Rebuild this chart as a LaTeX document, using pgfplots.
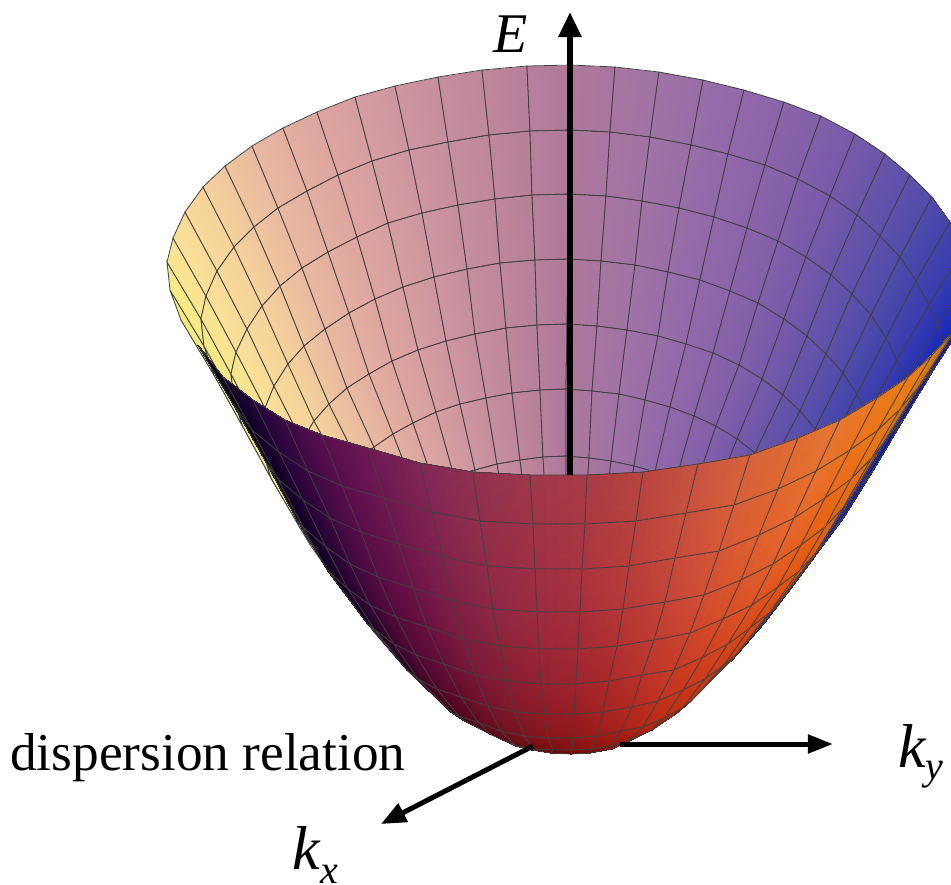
\documentclass[border=0pt]{standalone}
\usepackage{fontspec}
\setmainfont{Liberation Serif}
\usepackage{pgfplots}
\pgfplotsset{compat=1.18}
\usetikzlibrary{arrows.meta}
\begin{document}
\begin{tikzpicture}
\useasboundingbox (0,0) rectangle (951pt,885pt);
\begin{axis}[at={(0,0)},anchor=south west,scale only axis,width=951pt,height=885pt,
  xmin=0,xmax=951,ymin=0,ymax=885,y dir=reverse,view={0}{90},hide axis,clip mode=individual,
  colormap={inner}{
    rgb255(0)=(235,235,110) rgb255(2)=(245,235,130) rgb255(4)=(250,225,150)
    rgb255(6)=(245,210,155) rgb255(8)=(232,185,160) rgb255(10)=(222,165,160)
    rgb255(12)=(205,150,160) rgb255(14)=(190,135,155) rgb255(16)=(175,120,155)
    rgb255(18)=(160,115,165) rgb255(20)=(145,105,170) rgb255(22)=(130,95,170)
    rgb255(24)=(105,85,170) rgb255(26)=(80,75,170) rgb255(28)=(55,60,175)
    rgb255(30)=(20,40,190) rgb255(32)=(10,20,170)}]
% inside of the bowl: one scanline per meridian, rim first, value = colour position
\addplot3[surf,shader=faceted interp,faceted color=black!75,line width=0.8pt,
  mesh/rows=33,mesh/cols=8,point meta=explicit,point meta min=-16,point meta max=16] coordinates {
(198,345,0)[-16] (229,399,0)[-16] (258,450,0)[-16] (284,500,0)[-16] (311,546,0)[-16] (342,590,0)[-16] (374,632,0)[-16] (406,669,0)[-16]
(181,320,0)[-15] (214,375,0)[-15] (243,427,0)[-15] (271,478,0)[-15] (299,526,0)[-15] (331,572,0)[-15] (365,616,0)[-15] (398,656,0)[-15]
(170,290,0)[-14] (204,346,0)[-14] (234,400,0)[-14] (263,452,0)[-14] (291,502,0)[-14] (325,551,0)[-14] (359,598,0)[-14] (394,640,0)[-14]
(167,262,0)[-13] (201,319,0)[-13] (231,374,0)[-13] (260,429,0)[-13] (289,480,0)[-13] (323,531,0)[-13] (357,580,0)[-13] (392,625,0)[-13]
(173,238,0)[-12] (206,296,0)[-12] (236,352,0)[-12] (265,408,0)[-12] (293,461,0)[-12] (326,513,0)[-12] (361,565,0)[-12] (395,612,0)[-12]
(185,212,0)[-11] (217,271,0)[-11] (247,329,0)[-11] (274,386,0)[-11] (302,441,0)[-11] (334,495,0)[-11] (367,549,0)[-11] (400,599,0)[-11]
(203,187,0)[-10] (234,247,0)[-10] (262,306,0)[-10] (288,364,0)[-10] (314,421,0)[-10] (345,477,0)[-10] (376,533,0)[-10] (408,586,0)[-10]
(225,166,0)[-9] (254,227,0)[-9] (280,286,0)[-9] (304,346,0)[-9] (329,404,0)[-9] (358,462,0)[-9] (387,520,0)[-9] (417,575,0)[-9]
(252,146,0)[-8] (278,208,0)[-8] (302,268,0)[-8] (325,329,0)[-8] (347,388,0)[-8] (374,447,0)[-8] (401,507,0)[-8] (429,564,0)[-8]
(283,128,0)[-7] (307,191,0)[-7] (328,252,0)[-7] (349,313,0)[-7] (369,374,0)[-7] (393,434,0)[-7] (417,496,0)[-7] (442,555,0)[-7]
(317,112,0)[-6] (338,175,0)[-6] (357,237,0)[-6] (375,299,0)[-6] (392,361,0)[-6] (413,423,0)[-6] (435,486,0)[-6] (457,546,0)[-6]
(355,97,0)[-5] (372,161,0)[-5] (388,223,0)[-5] (403,287,0)[-5] (418,350,0)[-5] (436,412,0)[-5] (454,476,0)[-5] (473,538,0)[-5]
(395,86,0)[-4] (409,150,0)[-4] (422,213,0)[-4] (434,277,0)[-4] (446,341,0)[-4] (460,404,0)[-4] (475,470,0)[-4] (490,532,0)[-4]
(438,77,0)[-3] (448,142,0)[-3] (458,205,0)[-3] (467,269,0)[-3] (475,334,0)[-3] (486,398,0)[-3] (497,464,0)[-3] (509,528,0)[-3]
(482,70,0)[-2] (489,135,0)[-2] (495,199,0)[-2] (500,263,0)[-2] (506,328,0)[-2] (512,393,0)[-2] (520,460,0)[-2] (528,524,0)[-2]
(527,66,0)[-1] (530,131,0)[-1] (532,195,0)[-1] (535,260,0)[-1] (537,325,0)[-1] (540,390,0)[-1] (543,457,0)[-1] (547,522,0)[-1]
(571,65,0)[0] (570,130,0)[0] (569,194,0)[0] (568,259,0)[0] (567,324,0)[0] (566,389,0)[0] (566,456,0)[0] (566,521,0)[0]
(615,67,0)[1] (610,132,0)[1] (606,196,0)[1] (601,261,0)[1] (597,326,0)[1] (592,391,0)[1] (589,458,0)[1] (585,523,0)[1]
(659,72,0)[2] (650,137,0)[2] (642,201,0)[2] (635,265,0)[2] (627,330,0)[2] (619,394,0)[2] (611,461,0)[2] (604,525,0)[2]
(703,80,0)[3] (691,145,0)[3] (679,208,0)[3] (668,272,0)[3] (658,336,0)[3] (645,400,0)[3] (634,466,0)[3] (623,530,0)[3]
(744,90,0)[4] (728,154,0)[4] (714,217,0)[4] (700,280,0)[4] (686,344,0)[4] (670,407,0)[4] (655,472,0)[4] (640,535,0)[4]
(784,102,0)[5] (765,165,0)[5] (747,228,0)[5] (730,291,0)[5] (713,353,0)[5] (694,416,0)[5] (676,480,0)[5] (658,541,0)[5]
(821,116,0)[6] (798,179,0)[6] (778,241,0)[6] (758,303,0)[6] (739,365,0)[6] (716,426,0)[6] (695,488,0)[6] (673,549,0)[6]
(855,134,0)[7] (830,196,0)[7] (806,257,0)[7] (784,319,0)[7] (762,379,0)[7] (737,439,0)[7] (713,500,0)[7] (688,558,0)[7]
(885,154,0)[8] (857,215,0)[8] (831,275,0)[8] (807,336,0)[8] (783,395,0)[8] (755,453,0)[8] (728,512,0)[8] (701,568,0)[8]
(910,175,0)[9] (880,236,0)[9] (852,294,0)[9] (826,354,0)[9] (800,411,0)[9] (770,468,0)[9] (741,525,0)[9] (712,579,0)[9]
(932,197,0)[10] (900,257,0)[10] (871,315,0)[10] (843,373,0)[10] (815,429,0)[10] (783,484,0)[10] (752,539,0)[10] (721,591,0)[10]
(950,222,0)[11] (916,281,0)[11] (886,338,0)[11] (857,394,0)[11] (828,449,0)[11] (794,502,0)[11] (762,555,0)[11] (729,604,0)[11]
(964,247,0)[12] (929,305,0)[12] (897,360,0)[12] (867,415,0)[12] (837,468,0)[12] (803,520,0)[12] (769,571,0)[12] (735,617,0)[12]
(974,268,0)[13] (938,325,0)[13] (906,379,0)[13] (875,434,0)[13] (844,485,0)[13] (809,535,0)[13] (774,584,0)[13] (739,628,0)[13]
(978,288,0)[14] (942,344,0)[14] (909,398,0)[14] (878,451,0)[14] (847,501,0)[14] (811,550,0)[14] (776,596,0)[14] (741,639,0)[14]
(972,310,0)[15] (936,365,0)[15] (904,418,0)[15] (873,470,0)[15] (843,518,0)[15] (807,566,0)[15] (773,610,0)[15] (738,651,0)[15]
(955,330,0)[16] (921,385,0)[16] (890,436,0)[16] (860,487,0)[16] (831,534,0)[16] (797,580,0)[16] (764,623,0)[16] (731,661,0)[16]
};
% outside of the bowl, front part up to the silhouette, colour given per point
\addplot3[surf,shader=faceted interp,faceted color=black!75,line width=0.8pt,
  mesh/rows=19,mesh/cols=10,mesh/color input=explicit,point meta=explicit symbolic] coordinates {
(198,345,0)[rgb255=5,0,15] (233,404,0)[rgb255=5,0,14] (266,462,0)[rgb255=5,0,13] (297,520,0)[rgb255=5,0,13] (328,571,0)[rgb255=5,0,11] (367,623,0)[rgb255=5,0,10] (407,670,0)[rgb255=4,0,8] (451,712,0)[rgb255=4,0,5] (451,712,0)[rgb255=4,0,3] (451,712,0)[rgb255=3,0,2]
(223,377,0)[rgb255=15,0,35] (252,430,0)[rgb255=15,0,33] (278,479,0)[rgb255=15,0,31] (303,527,0)[rgb255=15,0,30] (328,571,0)[rgb255=14,0,26] (367,623,0)[rgb255=14,0,23] (407,670,0)[rgb255=13,0,18] (451,712,0)[rgb255=13,0,12] (451,712,0)[rgb255=11,0,7] (451,712,0)[rgb255=9,0,4]
(253,400,0)[rgb255=35,5,60] (279,452,0)[rgb255=35,5,57] (303,500,0)[rgb255=35,4,54] (326,547,0)[rgb255=34,4,51] (348,589,0)[rgb255=34,3,45] (375,630,0)[rgb255=33,3,39] (407,670,0)[rgb255=32,2,30] (451,712,0)[rgb255=30,2,21] (451,712,0)[rgb255=26,1,12] (451,712,0)[rgb255=21,0,6]
(285,420,0)[rgb255=60,10,70] (308,471,0)[rgb255=60,9,66] (330,518,0)[rgb255=60,9,63] (350,564,0)[rgb255=59,8,60] (370,605,0)[rgb255=58,7,52] (394,644,0)[rgb255=56,6,46] (418,679,0)[rgb255=54,5,35] (451,712,0)[rgb255=51,4,24] (451,712,0)[rgb255=45,2,14] (451,712,0)[rgb255=36,1,7]
(322,435,0)[rgb255=90,15,80] (342,486,0)[rgb255=90,14,76] (361,532,0)[rgb255=90,13,72] (378,577,0)[rgb255=88,12,68] (396,617,0)[rgb255=86,10,60] (416,655,0)[rgb255=84,9,52] (437,689,0)[rgb255=81,7,40] (459,716,0)[rgb255=76,6,28] (463,720,0)[rgb255=68,4,16] (463,720,0)[rgb255=54,2,8]
(368,448,0)[rgb255=110,25,85] (384,498,0)[rgb255=110,24,81] (399,544,0)[rgb255=110,22,76] (413,588,0)[rgb255=108,20,72] (427,627,0)[rgb255=106,17,64] (444,664,0)[rgb255=102,15,55] (461,697,0)[rgb255=99,12,42] (479,723,0)[rgb255=94,10,30] (490,734,0)[rgb255=82,6,17] (490,734,0)[rgb255=66,2,8]
(420,463,0)[rgb255=130,40,85] (432,512,0)[rgb255=130,38,81] (443,557,0)[rgb255=130,35,76] (453,601,0)[rgb255=127,32,72] (463,639,0)[rgb255=125,28,64] (475,675,0)[rgb255=121,24,55] (488,706,0)[rgb255=117,20,42] (501,731,0)[rgb255=110,16,30] (516,746,0)[rgb255=98,10,17] (516,746,0)[rgb255=78,4,8]
(473,472,0)[rgb255=145,50,80] (480,521,0)[rgb255=145,47,76] (487,566,0)[rgb255=145,44,72] (493,609,0)[rgb255=142,40,68] (500,646,0)[rgb255=139,35,60] (507,681,0)[rgb255=135,30,52] (515,712,0)[rgb255=130,25,40] (524,736,0)[rgb255=123,20,28] (534,749,0)[rgb255=109,12,16] (532,750,0)[rgb255=87,5,8]
(530,475,0)[rgb255=160,55,75] (533,524,0)[rgb255=160,52,71] (535,569,0)[rgb255=160,48,68] (537,612,0)[rgb255=157,44,64] (539,649,0)[rgb255=154,38,56] (541,684,0)[rgb255=149,33,49] (545,714,0)[rgb255=144,28,38] (548,738,0)[rgb255=136,22,26] (553,750,0)[rgb255=120,14,15] (551,753,0)[rgb255=96,6,8]
(587,475,0)[rgb255=170,60,70] (585,524,0)[rgb255=170,57,66] (582,569,0)[rgb255=170,53,63] (580,612,0)[rgb255=167,48,60] (578,649,0)[rgb255=163,42,52] (576,684,0)[rgb255=158,36,46] (574,714,0)[rgb255=153,30,35] (573,738,0)[rgb255=144,24,24] (572,750,0)[rgb255=128,15,14] (571,754,0)[rgb255=102,6,7]
(643,472,0)[rgb255=185,70,65] (636,521,0)[rgb255=185,66,62] (629,566,0)[rgb255=185,62,58] (623,609,0)[rgb255=181,56,55] (617,646,0)[rgb255=178,49,49] (609,681,0)[rgb255=172,42,42] (603,712,0)[rgb255=166,35,32] (597,736,0)[rgb255=157,28,23] (591,749,0)[rgb255=139,18,13] (590,753,0)[rgb255=111,7,6]
(698,464,0)[rgb255=200,85,65] (686,513,0)[rgb255=200,81,62] (675,558,0)[rgb255=200,75,58] (665,602,0)[rgb255=196,68,55] (654,640,0)[rgb255=192,60,49] (642,675,0)[rgb255=186,51,42] (632,707,0)[rgb255=180,42,32] (621,731,0)[rgb255=170,34,23] (610,746,0)[rgb255=150,21,13] (612,749,0)[rgb255=120,8,6]
(750,455,0)[rgb255=215,100,60] (734,505,0)[rgb255=215,95,57] (719,551,0)[rgb255=215,88,54] (704,595,0)[rgb255=211,80,51] (690,633,0)[rgb255=206,70,45] (674,670,0)[rgb255=200,60,39] (658,701,0)[rgb255=194,50,30] (643,727,0)[rgb255=183,40,21] (627,742,0)[rgb255=161,25,12] (627,742,0)[rgb255=129,10,6]
(798,438,0)[rgb255=225,110,50] (778,489,0)[rgb255=225,104,47] (759,535,0)[rgb255=225,97,45] (741,580,0)[rgb255=220,88,42] (723,619,0)[rgb255=216,77,37] (703,657,0)[rgb255=209,66,32] (683,690,0)[rgb255=202,55,25] (664,718,0)[rgb255=191,44,18] (652,730,0)[rgb255=169,27,10] (652,730,0)[rgb255=135,11,5]
(840,420,0)[rgb255=230,120,50] (816,471,0)[rgb255=230,114,47] (794,518,0)[rgb255=230,106,45] (773,564,0)[rgb255=225,96,42] (752,605,0)[rgb255=221,84,37] (728,644,0)[rgb255=214,72,32] (705,679,0)[rgb255=207,60,25] (682,708,0)[rgb255=195,48,18] (677,713,0)[rgb255=172,30,10] (677,713,0)[rgb255=138,12,5]
(877,398,0)[rgb255=235,120,30] (850,450,0)[rgb255=235,114,28] (825,498,0)[rgb255=235,106,27] (801,545,0)[rgb255=230,96,25] (778,587,0)[rgb255=226,84,22] (750,628,0)[rgb255=219,72,20] (724,665,0)[rgb255=212,60,15] (690,702,0)[rgb255=200,48,10] (690,702,0)[rgb255=176,30,6] (690,702,0)[rgb255=141,12,3]
(908,377,0)[rgb255=235,125,20] (878,430,0)[rgb255=235,119,19] (851,479,0)[rgb255=235,110,18] (825,527,0)[rgb255=230,100,17] (799,571,0)[rgb255=226,87,15] (769,613,0)[rgb255=219,75,13] (735,656,0)[rgb255=212,62,10] (690,702,0)[rgb255=200,50,7] (690,702,0)[rgb255=176,31,4] (690,702,0)[rgb255=141,12,2]
(932,355,0)[rgb255=230,130,20] (900,409,0)[rgb255=230,123,19] (871,459,0)[rgb255=230,114,18] (843,508,0)[rgb255=225,104,17] (815,554,0)[rgb255=221,91,15] (775,607,0)[rgb255=214,78,13] (735,656,0)[rgb255=207,65,10] (690,702,0)[rgb255=195,52,7] (690,702,0)[rgb255=172,32,4] (690,702,0)[rgb255=138,13,2]
(955,330,0)[rgb255=190,110,20] (918,388,0)[rgb255=190,104,19] (882,445,0)[rgb255=190,97,18] (848,502,0)[rgb255=186,88,17] (815,554,0)[rgb255=182,77,15] (775,607,0)[rgb255=177,66,13] (735,656,0)[rgb255=171,55,10] (690,702,0)[rgb255=161,44,7] (690,702,0)[rgb255=142,27,4] (690,702,0)[rgb255=114,11,2]
};
\draw[line width=6pt,-{Triangle[length=25pt,width=22pt]}] (axis cs:570,475) -- (axis cs:570,12);
\draw[line width=5pt,-{Triangle[length=25pt,width=18pt]}] (axis cs:620,744) -- (axis cs:833,744);
\draw[line width=5pt,-{Triangle[length=25pt,width=20pt]}] (axis cs:533,746) -- (axis cs:381,824);
\node[anchor=base west,inner sep=0pt] at (axis cs:493,52) {\fontsize{56}{60}\selectfont\textit{E}};
\node[anchor=base west,inner sep=0pt] at (axis cs:10,770) {\fontsize{53.3}{60}\selectfont dispersion relation};
\node[anchor=base west,inner sep=0pt] at (axis cs:292,869) {\fontsize{62}{66}\selectfont\textit{k}};
\node[anchor=base west,inner sep=0pt] at (axis cs:320,883) {\fontsize{40}{44}\selectfont\textit{x}};
\node[anchor=base west,inner sep=0pt] at (axis cs:898,767) {\fontsize{62}{66}\selectfont\textit{k}};
\node[anchor=base west,inner sep=0pt] at (axis cs:925,779) {\fontsize{40}{44}\selectfont\textit{y}};
\end{axis}
\end{tikzpicture}
\end{document}
